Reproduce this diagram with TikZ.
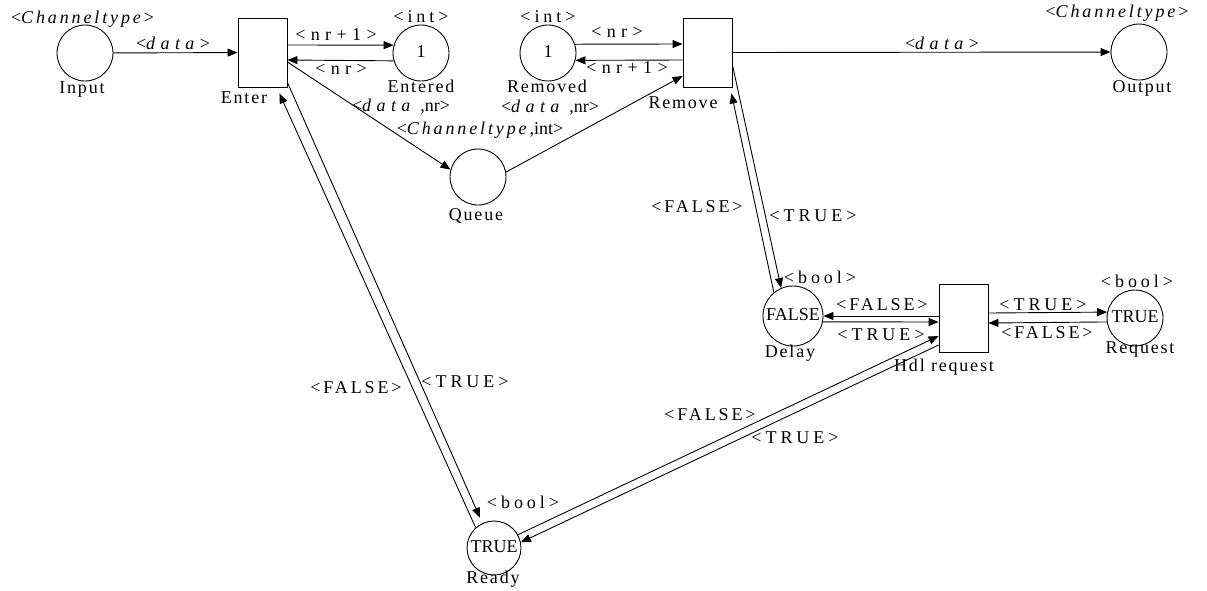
\documentclass[tikz,border=0pt]{standalone}
\usepackage{fontspec}
\setmainfont{Liberation Serif}
\newfontfamily\lsA[LetterSpace=30]{Liberation Serif}
\newfontfamily\lsB[LetterSpace=22]{Liberation Serif}
\newfontfamily\lsC[LetterSpace=16]{Liberation Serif}
\newfontfamily\lsD[LetterSpace=10]{Liberation Serif}
\usetikzlibrary{arrows.meta}
\begin{document}
\begin{tikzpicture}[x=1pt,y=-1pt,
  every node/.style={font=\fontsize{18pt}{21pt}\selectfont},
  place/.style={draw,circle,minimum size=56pt,inner sep=0pt,line width=0.9pt,text height=8pt,text depth=0pt},
  trans/.style={draw,rectangle,minimum width=49pt,minimum height=69pt,inner sep=0pt,line width=0.9pt},
  txt/.style={inner sep=0pt,anchor=base},
  arc/.style={line width=0.9pt,-{Triangle[length=10pt,width=8pt]}}]
\useasboundingbox (0,0) rectangle (1207,590);

% places and transitions
\node[place] (input) at (85,53) {};
\node[trans] (enter) at (262.5,52.5) {};
\node[place] (entered) at (421,53) {1};
\node[place] (removed) at (548,53) {1};
\node[trans] (remove) at (707.5,52.5) {};
\node[place] (output) at (1139,52) {};
\node[place] (queue) at (478,177) {};
\node[place,minimum size=60pt] (delay) at (793,316) {FALSE};
\node[trans,minimum height=68pt] (hdl) at (963.5,318) {};
\node[place] (request) at (1135,318) {TRUE};
\node[place,minimum size=54pt] (ready) at (494,548) {TRUE};

% connectors
\draw[arc] (input) -- (enter);
\draw[arc] ([yshift=7.5pt]enter.east) -- (entered.164);
\draw[arc] (entered.196) -- ([yshift=-7.5pt]enter.east);
\draw[arc] (removed.18) -- ([yshift=8.5pt]remove.west);
\draw[arc] ([yshift=-7.5pt]remove.west) -- (removed.-15);
\draw[arc] (remove.east) -- (output);
\draw[arc] ([yshift=-9.5pt]enter.east) -- (queue.165);
\draw[arc] (queue.10) -- ([yshift=-23.5pt]remove.west);
\draw[arc] ([yshift=-12.5pt]remove.east) -- (delay.113);
\draw[arc] (delay.129) -- ([xshift=-1pt,yshift=-6pt]remove.south east);
\draw[arc] ([yshift=2pt]hdl.west) -- (delay.east);
\draw[arc] (delay.-11) -- ([yshift=-4pt]hdl.west);
\draw[arc] ([yshift=5pt]hdl.east) -- (request.168);
\draw[arc] (request.188) -- ([yshift=-5pt]hdl.east);
\draw[arc] (ready.29) -- ([yshift=-18pt]hdl.west);
\draw[arc] ([yshift=-27pt]hdl.west) -- (ready.12);
\draw[arc] (ready.132) -- ([xshift=-8pt,yshift=-6pt]enter.south east);
\draw[arc,shorten >=6pt] ([yshift=5pt]enter.south east) -- (ready.115);

% texts
\node[txt] (inputT) at (82.5,23) {\lsC<\textit{Channeltype}>};
\node[txt] (inputN) at (82,93) {\lsD Input};
\node[txt] (enterN) at (244,103) {\lsD Enter};
\node[txt] (l1) at (173,49) {\lsA<\textit{data}>};
\node[txt] (l2) at (336,40) {\lsA<nr+1>};
\node[txt] (l3) at (341,74) {\lsA<nr>};
\node[txt] (enteredT) at (421,22) {\lsB<int>};
\node[txt] (enteredN) at (421,92) {\lsD Entered};
\node[txt] (l4) at (401,111) {{\lsA<\textit{data}} ,nr>};
\node[txt] (queueT) at (480,134) {{\lsC<\textit{Channeltype}},int>};
\node[txt] (removedT) at (548,22) {\lsB<int>};
\node[txt] (removedN) at (547,92) {\lsD Removed};
\node[txt] (l5) at (550,112) {{\lsA<\textit{data}} ,nr>};
\node[txt] (l6) at (617,37) {\lsA<nr>};
\node[txt] (l7) at (627,73) {\lsA<nr+1>};
\node[txt] (removeN) at (683,108) {\lsD Remove};
\node[txt] (l8) at (942,49) {\lsA<\textit{data}>};
\node[txt] (outputT) at (1117,17) {\lsC<\textit{Channeltype}>};
\node[txt] (outputN) at (1142,92) {\lsD Output};
\node[txt] (queueN) at (476,220) {\lsD Queue};
\node[txt] (l9) at (697,212) {\lsC<FALSE>};
\node[txt] (l10) at (813,221) {\lsB<TRUE>};
\node[txt] (delayT) at (820,283) {\lsB<bool>};
\node[txt] (delayN) at (790,357) {\lsD Delay};
\node[txt] (l11) at (882,310) {\lsC<FALSE>};
\node[txt] (l12) at (881,340) {\lsB<TRUE>};
\node[txt] (hdlN) at (944,371) {\lsD Hdl request};
\node[txt] (l13) at (1043,310) {\lsB<TRUE>};
\node[txt] (l14) at (1047,338) {\lsC<FALSE>};
\node[txt] (requestT) at (1137,287) {\lsB<bool>};
\node[txt] (requestN) at (1140,353) {\lsD Request};
\node[txt] (l15) at (356,393) {\lsC<FALSE>};
\node[txt] (l16) at (465,387) {\lsB<TRUE>};
\node[txt] (l17) at (710,420) {\lsC<FALSE>};
\node[txt] (l18) at (795,443) {\lsB<TRUE>};
\node[txt] (readyT) at (523,508) {\lsB<bool>};
\node[txt] (readyN) at (493,583) {\lsD Ready};
\end{tikzpicture}
\end{document}
